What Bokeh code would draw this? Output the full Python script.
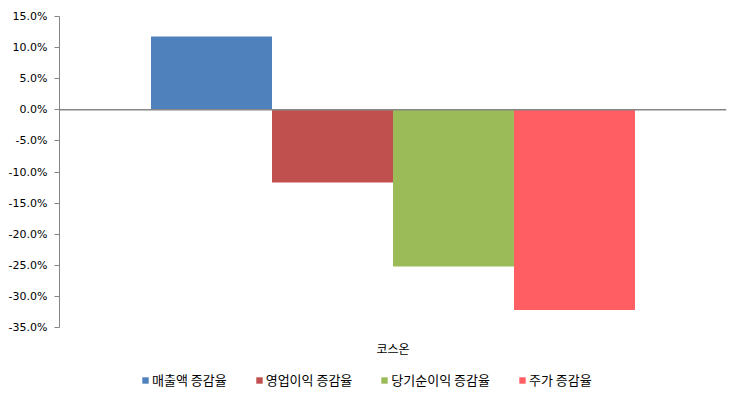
from bokeh.plotting import figure
from bokeh.layouts import column
from bokeh.models import (ColumnDataSource, FactorRange, Range1d, FixedTicker,
                          PrintfTickFormatter, Span, Legend, LegendItem)
from bokeh.transform import dodge
from bokeh.embed import file_html
from bokeh.resources import INLINE

categories = ["코스온"]
series_names = ["매출액 증감율", "영업이익 증감율", "당기순이익 증감율", "주가 증감율"]
series_values = [[11.8], [-11.7], [-25.2], [-32.2]]
series_colors = ["#4F81BD", "#C0504D", "#9BBB59", "#FF5F63"]
y_ticks = [-35, -30, -25, -20, -15, -10, -5, 0, 5, 10, 15]

bar_width = 0.1814
offsets = [-1.5 * bar_width, -0.5 * bar_width, 0.5 * bar_width, 1.5 * bar_width]

p = figure(x_range=FactorRange(*categories), y_range=Range1d(-35, 15),
           frame_width=667, frame_height=311,
           output_backend="svg", toolbar_location=None,
           min_border_left=59, min_border_right=1, min_border_top=16,
           min_border_bottom=30)
p.outline_line_color = None
p.xgrid.grid_line_color = None
p.ygrid.grid_line_color = None

# legend strip below the chart (same data, bars fall outside its visible range)
leg_fig = figure(x_range=FactorRange(*categories), y_range=Range1d(1000, 1001),
                 frame_width=727, frame_height=30, output_backend="svg",
                 toolbar_location=None, x_axis_location=None, y_axis_location=None,
                 min_border=0)
leg_fig.outline_line_color = None
leg_fig.xgrid.grid_line_color = None
leg_fig.ygrid.grid_line_color = None

items = []
for name, vals, col, off in zip(series_names, series_values, series_colors, offsets):
    src = ColumnDataSource(dict(x=categories, top=vals))
    p.vbar(x=dodge("x", off, range=p.x_range), top="top", bottom=0,
           width=bar_width, source=src, fill_color=col, line_color=None)
    r2 = leg_fig.vbar(x=dodge("x", off, range=leg_fig.x_range), top="top", bottom=0,
                      width=bar_width, source=src, fill_color=col, line_color=None)
    items.append(LegendItem(label=name, renderers=[r2]))

p.add_layout(Span(location=0, dimension="width", line_color="#868686", line_width=1.5))

ya = p.yaxis[0]
ya.ticker = FixedTicker(ticks=y_ticks)
ya.formatter = PrintfTickFormatter(format="%.1f%%")
ya.axis_line_color = "#868686"
ya.major_tick_line_color = "#868686"
ya.major_tick_out = 5
ya.major_tick_in = 0
ya.minor_tick_line_color = None
ya.major_label_text_font = "DejaVu Sans"
ya.major_label_text_font_size = "11px"
ya.major_label_text_color = "#000000"
ya.major_label_standoff = 7

xa = p.xaxis[0]
xa.axis_line_color = None
xa.major_tick_line_color = None
xa.minor_tick_line_color = None
xa.major_label_text_font = "Noto Sans CJK KR"
xa.major_label_text_font_size = "12px"
xa.major_label_text_color = "#000000"
xa.major_label_standoff = 6

legend = Legend(items=items, orientation="horizontal", location=(141, 0),
                glyph_width=8, glyph_height=8, label_standoff=3, spacing=28,
                padding=0, margin=0, border_line_color=None,
                background_fill_alpha=0,
                label_text_font="Noto Sans CJK KR", label_text_font_size="13px",
                label_text_color="#000000", label_height=14)
leg_fig.add_layout(legend, "center")

layout = column(p, leg_fig, spacing=0)
open("out.html", "w").write(file_html(layout, INLINE))
